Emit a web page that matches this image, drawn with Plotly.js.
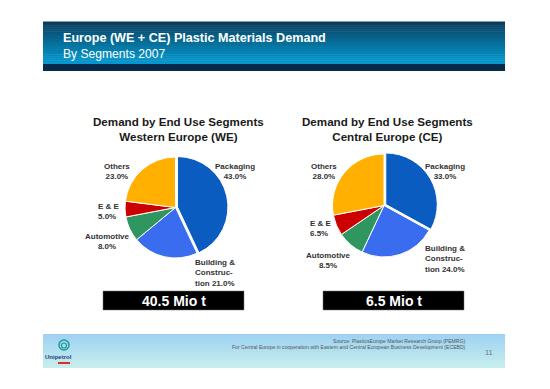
<!DOCTYPE html>
<html>
<head>
<meta charset="utf-8">
<script src="https://cdn.plot.ly/plotly-3.0.1.min.js"></script>
<style>
html,body{margin:0;padding:0;background:#fff;}
#chart{width:550px;height:389px;}
</style>
</head>
<body>
<div id="chart"></div>
<script>
// ---- data ----
var segments = ["Packaging", "Building & Construction", "Automotive", "E & E", "Others"];
var weValues = [43.0, 21.0, 8.0, 5.0, 23.0];
var ceValues = [33.0, 24.0, 8.5, 6.5, 28.0];
var weLabelText = ["Packaging", "Building &<br>Construc-<br>tion", "Automotive", "E & E", "Others"];
var ceLabelText = ["Packaging", "Building &<br>Construc-<br>tion", "Automotive", "E & E", "Others"];
var weTotal = "40.5 Mio t";
var ceTotal = "6.5 Mio t";
var mainTitle = "Europe (WE + CE) Plastic Materials Demand";
var subTitle = "By Segments 2007";
var weTitle = "Demand by End Use Segments<br>Western Europe (WE)";
var ceTitle = "Demand by End Use Segments<br>Central Europe (CE)";
var sourceLine1 = "Source: PlasticsEurope Market Research Group (PEMRG)";
var sourceLine2 = "For Central Europe in cooperation with Eastern and Central European Business Development (ECEBD)";
var pageNumber = "11";
var logoText = "Unipetrol";

// ---- layout helpers ----
var W = 550, H = 389;
function px(x){ return x / W; }
function py(y){ return 1 - y / H; }
var colors = ["#0a5cc0", "#3a6cf0", "#2f9660", "#cc0000", "#ffb000"];
var pullAmt = 0.04;
function domainFor(cx, cy, r){
  var R = r * (1 + pullAmt);
  return {x: [px(cx - R), px(cx + R)], y: [py(cy + R), py(cy - R)]};
}
function pullArr(n){ var a = []; for (var i=0;i<n;i++) a.push(i===0 ? pullAmt : 0); return a; }

var traces = [
  {type: "pie", values: weValues, labels: segments, sort: false, direction: "clockwise", rotation: 0,
   marker: {colors: colors, line: {color: "#ffffff", width: 1}}, pull: pullArr(weValues.length),
   textinfo: "none", hoverinfo: "label+percent", showlegend: false, domain: domainFor(175.5, 207.5, 50.5)},
  {type: "pie", values: ceValues, labels: segments, sort: false, direction: "clockwise", rotation: 0,
   marker: {colors: colors, line: {color: "#ffffff", width: 1}}, pull: pullArr(ceValues.length),
   textinfo: "none", hoverinfo: "label+percent", showlegend: false, domain: domainFor(384, 205.5, 51.5)}
];

// label placements (px) : [x, y, xanchor]
var wePos = [[235, 172, "center"], [193, 273, "left"], [107, 241, "center"], [96, 211, "left"], [117, 172, "center"]];
var cePos = [[445, 171, "center"], [423, 259, "left"], [328, 260, "center"], [308, 228, "left"], [324, 171, "center"]];

var shapes = [];
var annotations = [];
var FONT = "Liberation Sans, Arial, sans-serif";

// header gradient
function lerp(a, b, t){ return Math.round(a + (b - a) * t); }
var hTop = 21.5, hBot = 64, steps = 22;
var cTop = [10, 58, 88], cBot = [4, 152, 206];
for (var i = 0; i < steps; i++) {
  var t = Math.pow(i / (steps - 1), 0.85);
  var y0 = hTop + (hBot - hTop) * i / steps, y1 = hTop + (hBot - hTop) * (i + 1) / steps + 0.5;
  shapes.push({type: "rect", xref: "paper", yref: "paper", x0: px(43), x1: px(505), y0: py(y0), y1: py(Math.min(y1, hBot)),
    fillcolor: "rgb(" + lerp(cTop[0], cBot[0], t) + "," + lerp(cTop[1], cBot[1], t) + "," + lerp(cTop[2], cBot[2], t) + ")",
    line: {width: 0}, layer: "below"});
}
shapes.push({type: "rect", xref: "paper", yref: "paper", x0: px(43), x1: px(505), y0: py(64), y1: py(71),
  fillcolor: "#062a4c", line: {width: 0}, layer: "below"});

// footer gradient
var fTop = 334, fBot = 368, fsteps = 17;
var fc0 = [158, 210, 242], fc1 = [198, 238, 236];
for (var j = 0; j < fsteps; j++) {
  var tt = j / (fsteps - 1);
  var a0 = fTop + (fBot - fTop) * j / fsteps, a1 = fTop + (fBot - fTop) * (j + 1) / fsteps + 0.5;
  shapes.push({type: "rect", xref: "paper", yref: "paper", x0: px(43), x1: px(505), y0: py(a0), y1: py(Math.min(a1, fBot)),
    fillcolor: "rgb(" + lerp(fc0[0], fc1[0], tt) + "," + lerp(fc0[1], fc1[1], tt) + "," + lerp(fc0[2], fc1[2], tt) + ")",
    line: {width: 0}, layer: "below"});
}

// total boxes
shapes.push({type: "rect", xref: "paper", yref: "paper", x0: px(103), x1: px(244), y0: py(310), y1: py(291), fillcolor: "#000", line: {color: "#777", width: 0.5}});
shapes.push({type: "rect", xref: "paper", yref: "paper", x0: px(323), x1: px(464), y0: py(310), y1: py(291), fillcolor: "#000", line: {color: "#777", width: 0.5}});

// logo glyph
shapes.push({type: "circle", xref: "paper", yref: "paper", x0: px(59), x1: px(69), y0: py(350), y1: py(340), line: {color: "#1b9a9a", width: 1.5}});
shapes.push({type: "circle", xref: "paper", yref: "paper", x0: px(61.5), x1: px(66.5), y0: py(348), y1: py(343), line: {color: "#1b9a9a", width: 1.2}});
shapes.push({type: "rect", xref: "paper", yref: "paper", x0: px(58), x1: px(70), y0: py(364), y1: py(362), fillcolor: "#e03020", line: {width: 0}});

function ann(text, x, y, size, opts){
  var a = {text: text, x: px(x), y: py(y), xref: "paper", yref: "paper", showarrow: false,
    xanchor: "center", yanchor: "middle", font: {family: FONT, size: size, color: "#222"}};
  for (var k in opts) { if (k === "font") { for (var f in opts.font) a.font[f] = opts.font[f]; } else a[k] = opts[k]; }
  return a;
}

annotations.push(ann("<b>" + mainTitle + "</b>", 62, 46, 12.6, {xanchor: "left", yanchor: "bottom", borderpad: 0, font: {color: "#ffffff"}}));
annotations.push(ann(subTitle, 62, 46, 12.1, {xanchor: "left", yanchor: "top", borderpad: 0, font: {color: "#ffffff"}}));
annotations.push(ann("<b>" + weTitle.replace("<br>", "</b><br><b>") + "</b>", 178, 128.5, 11.6, {font: {color: "#1a1a1a"}}));
annotations.push(ann("<b>" + ceTitle.replace("<br>", "</b><br><b>") + "</b>", 387, 128.5, 11.6, {font: {color: "#1a1a1a"}}));

function pct(v){ return v.toFixed(1) + "%"; }
function addLabels(labels, vals, pos){
  for (var i = 0; i < vals.length; i++) {
    var txt = labels[i];
    if (txt.indexOf("tion") >= 0) txt = txt + " " + pct(vals[i]); else txt = txt + "<br>" + pct(vals[i]);
    var lines = txt.split("<br>").map(function(s){ return "<b>" + s + "</b>"; }).join("<br>");
    annotations.push(ann(lines, pos[i][0], pos[i][1], 8, {xanchor: pos[i][2], align: pos[i][2] === "left" ? "left" : "center", font: {color: "#333"}}));
  }
}
addLabels(weLabelText, weValues, wePos);
addLabels(ceLabelText, ceValues, cePos);

annotations.push(ann("<b>" + weTotal + "</b>", 174, 300.5, 14, {font: {color: "#ffffff"}}));
annotations.push(ann("<b>" + ceTotal + "</b>", 394, 300.5, 14, {font: {color: "#ffffff"}}));

annotations.push(ann(sourceLine1, 468, 341, 5.1, {xanchor: "right", font: {color: "#555"}}));
annotations.push(ann(sourceLine2, 468, 347, 5.1, {xanchor: "right", font: {color: "#555"}}));
annotations.push(ann(pageNumber, 489, 352, 7.5, {font: {color: "#777"}}));
annotations.push(ann("<b>" + logoText + "</b>", 58, 356.5, 6, {font: {color: "#1f3f80"}}));

var layout = {
  width: W, height: H,
  margin: {l: 0, r: 0, t: 0, b: 0},
  paper_bgcolor: "#ffffff",
  plot_bgcolor: "#ffffff",
  showlegend: false,
  shapes: shapes,
  annotations: annotations
};

Plotly.newPlot("chart", traces, layout, {displayModeBar: false, staticPlot: true});
</script>
</body>
</html>
